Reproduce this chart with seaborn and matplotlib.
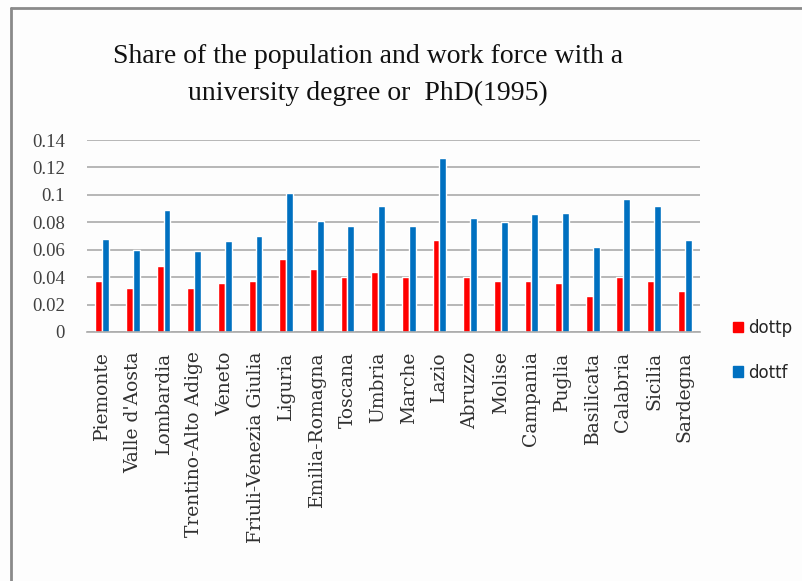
import matplotlib
matplotlib.use("Agg")
import matplotlib.pyplot as plt
from matplotlib.lines import Line2D
import seaborn as sns
import pandas as pd

regions = ["Piemonte", "Valle d'Aosta", "Lombardia", "Trentino-Alto Adige", "Veneto",
           "Friuli-Venezia Giulia", "Liguria", "Emilia-Romagna", "Toscana", "Umbria",
           "Marche", "Lazio", "Abruzzo", "Molise", "Campania", "Puglia", "Basilicata",
           "Calabria", "Sicilia", "Sardegna"]
dottp = [0.037, 0.032, 0.048, 0.032, 0.036, 0.037, 0.053, 0.046, 0.040, 0.044,
         0.040, 0.067, 0.040, 0.037, 0.037, 0.036, 0.026, 0.040, 0.037, 0.030]
dottf = [0.068, 0.060, 0.089, 0.059, 0.066, 0.070, 0.101, 0.081, 0.077, 0.092,
         0.077, 0.127, 0.083, 0.080, 0.086, 0.087, 0.062, 0.097, 0.092, 0.067]
series = ["dottp", "dottf"]
colors = ["#FF0000", "#0070C0"]
y_ticks = [0, 0.02, 0.04, 0.06, 0.08, 0.1, 0.12, 0.14]
y_labels = ["0", "0.02", "0.04", "0.06", "0.08", "0.1", "0.12", "0.14"]

df = pd.DataFrame({
    "region": regions * 2,
    "value": dottp + dottf,
    "series": [series[0]] * len(regions) + [series[1]] * len(regions),
})

sns.set_style("white")
fig = plt.figure(figsize=(8.03, 5.81), dpi=100)
fig.patch.set_facecolor("#FDFDFD")
ax = fig.add_axes([0.1083, 0.4286, 0.7634, 0.3304])
ax.set_facecolor("#FDFDFD")

sns.barplot(data=df, x="region", y="value", hue="series", palette=colors,
            width=0.45, gap=0, saturation=1, ax=ax, legend=False)

ax.set_ylim(0, 0.14)
ax.set_xlim(-0.5, len(regions) - 0.5)
ax.set_yticks(y_ticks)
ax.set_yticklabels(y_labels, fontsize=13.5, family="Liberation Serif", color="#404040")
ax.set_xticks(range(len(regions)))
ax.set_xticklabels(regions, rotation=90, fontsize=13.5, family="DejaVu Serif", color="#303030")
ax.tick_params(axis="y", length=0, pad=16)
ax.tick_params(axis="x", length=0, pad=14)
ax.set_axisbelow(True)
ax.yaxis.grid(True, color="#ABABAB", linewidth=1.2)
ax.set_xlabel("")
ax.set_ylabel("")
for side in ["top", "right", "left"]:
    ax.spines[side].set_visible(False)
ax.spines["bottom"].set_color("#ABABAB")
ax.spines["bottom"].set_linewidth(1.2)

# title
fig.text(0.458, 0.871, "Share of the population and work force with a\nuniversity degree or  PhD(1995)",
         ha="center", va="center", fontsize=20, family="Liberation Serif",
         linespacing=1.6, color="#111111")

# legend
handles = [plt.Rectangle((0, 0), 1, 1, color=c) for c in colors]
fig.legend(handles, series, loc="upper left", bbox_to_anchor=(0.894, 0.477),
           frameon=False, handlelength=0.6, handleheight=0.6,
           handletextpad=0.3, labelspacing=1.6, prop={"family": "DejaVu Sans", "size": 12})

# outer frame
fig.add_artist(Line2D([0.0137, 0.0137], [0.0, 0.986], transform=fig.transFigure,
                      color="#8A8A8A", linewidth=2))
fig.add_artist(Line2D([0.0137, 1.0], [0.986, 0.986], transform=fig.transFigure,
                      color="#8A8A8A", linewidth=2))

fig.savefig("out.png", dpi=100, facecolor=fig.get_facecolor())
